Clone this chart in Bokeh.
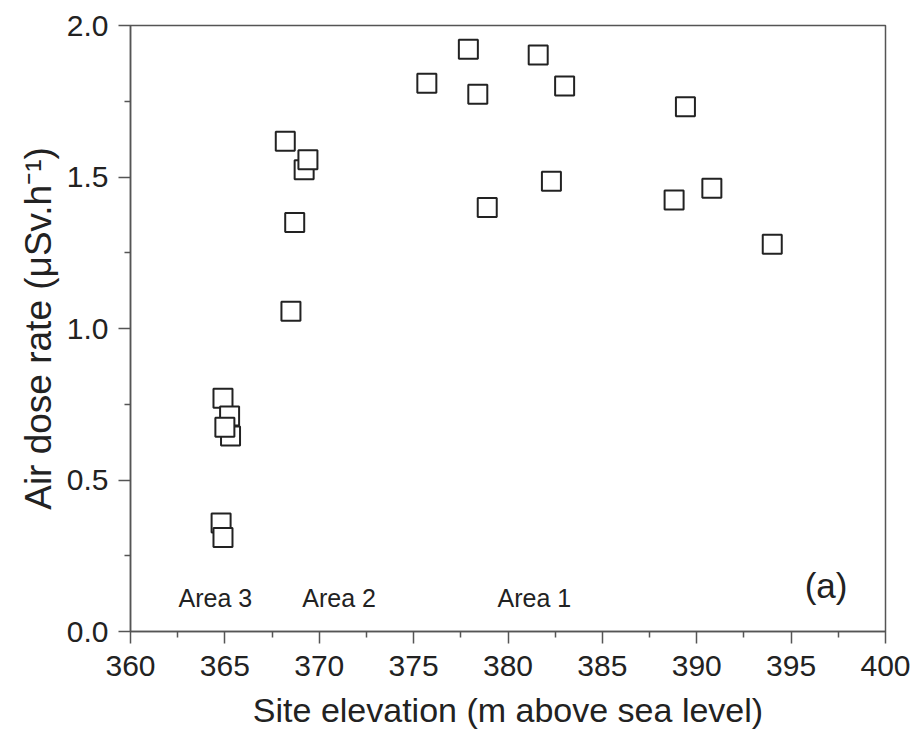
from bokeh.plotting import figure
from bokeh.models import Range1d, FixedTicker, ColumnDataSource, CustomJSTickFormatter
from bokeh.core.properties import value
from bokeh.embed import file_html
from bokeh.resources import INLINE

# Data (site elevation, air dose rate)
elevation = [377.9, 381.6, 375.7, 378.4, 383.0, 389.4, 382.3, 378.9, 388.8, 390.8, 394.0,
             368.2, 369.2, 369.4, 368.7, 368.5,
             364.9, 365.25, 365.3, 365.0, 364.8, 364.9]
dose_rate = [1.922, 1.903, 1.809, 1.773, 1.800, 1.732, 1.486, 1.399, 1.424, 1.463, 1.278,
             1.618, 1.524, 1.557, 1.350, 1.057,
             0.770, 0.711, 0.645, 0.674, 0.358, 0.310]

area_labels = ["Area 3", "Area 2", "Area 1"]
area_x = [364.5, 371.05, 381.4]
area_y = [0.11, 0.11, 0.11]

x_ticks = [360, 365, 370, 375, 380, 385, 390, 395, 400]
x_minor = [362.5, 367.5, 372.5, 377.5, 382.5, 387.5, 392.5, 397.5]
y_ticks = [0.0, 0.5, 1.0, 1.5, 2.0]
y_minor = [0.25, 0.75, 1.25, 1.75]

FONT = "Liberation Sans"
TXT = "#222222"
AX = "#555555"

p = figure(width=917, height=739, output_backend="svg", toolbar_location=None,
           x_range=Range1d(360, 400), y_range=Range1d(0, 2.0),
           min_border_left=130, min_border_right=32, min_border_top=25, min_border_bottom=108)

p.grid.visible = False
p.outline_line_color = AX
p.outline_line_width = 1.5
p.background_fill_color = "white"
p.border_fill_color = "white"

src = ColumnDataSource(dict(x=elevation, y=dose_rate))
p.scatter("x", "y", source=src, marker="square", size=19, fill_color="white",
          line_color="#222222", line_width=2)

lab = ColumnDataSource(dict(x=area_x, y=area_y, t=area_labels))
p.text("x", "y", text="t", source=lab, text_font=value(FONT), text_font_size="25px",
       text_align="center", text_baseline="middle", text_color=TXT)
p.text([396.85], [0.152], text=["(a)"], text_font=value(FONT), text_font_size="35px",
       text_align="center", text_baseline="middle", text_color=TXT)

for ax in (p.xaxis[0], p.yaxis[0]):
    ax.axis_line_color = AX
    ax.axis_line_width = 1.5
    ax.major_tick_line_color = AX
    ax.minor_tick_line_color = AX
    ax.major_tick_line_width = 1.5
    ax.minor_tick_line_width = 1.5
    ax.major_tick_in = 0
    ax.major_tick_out = 12
    ax.minor_tick_in = 0
    ax.minor_tick_out = 6
    ax.major_label_text_font = FONT
    ax.major_label_text_font_size = "30px"
    ax.major_label_text_color = TXT
    ax.axis_label_text_font = FONT
    ax.axis_label_text_font_style = "normal"
    ax.axis_label_text_color = TXT

p.xaxis.axis_label_text_font_size = "34px"
p.yaxis.axis_label_text_font_size = "37px"

p.xaxis.ticker = FixedTicker(ticks=x_ticks, minor_ticks=x_minor)
p.yaxis.ticker = FixedTicker(ticks=y_ticks, minor_ticks=y_minor)
p.yaxis.formatter = CustomJSTickFormatter(code="return tick.toFixed(1);")
p.xaxis.major_label_standoff = 12
p.yaxis.major_label_standoff = 10
p.xaxis.axis_label = "Site elevation (m above sea level)"
p.yaxis.axis_label = "Air dose rate (\u03bcSv.h\u207b\u00b9)"
p.xaxis.axis_label_standoff = 12
p.yaxis.axis_label_standoff = 5

open("out.html", "w").write(file_html(p, INLINE))
